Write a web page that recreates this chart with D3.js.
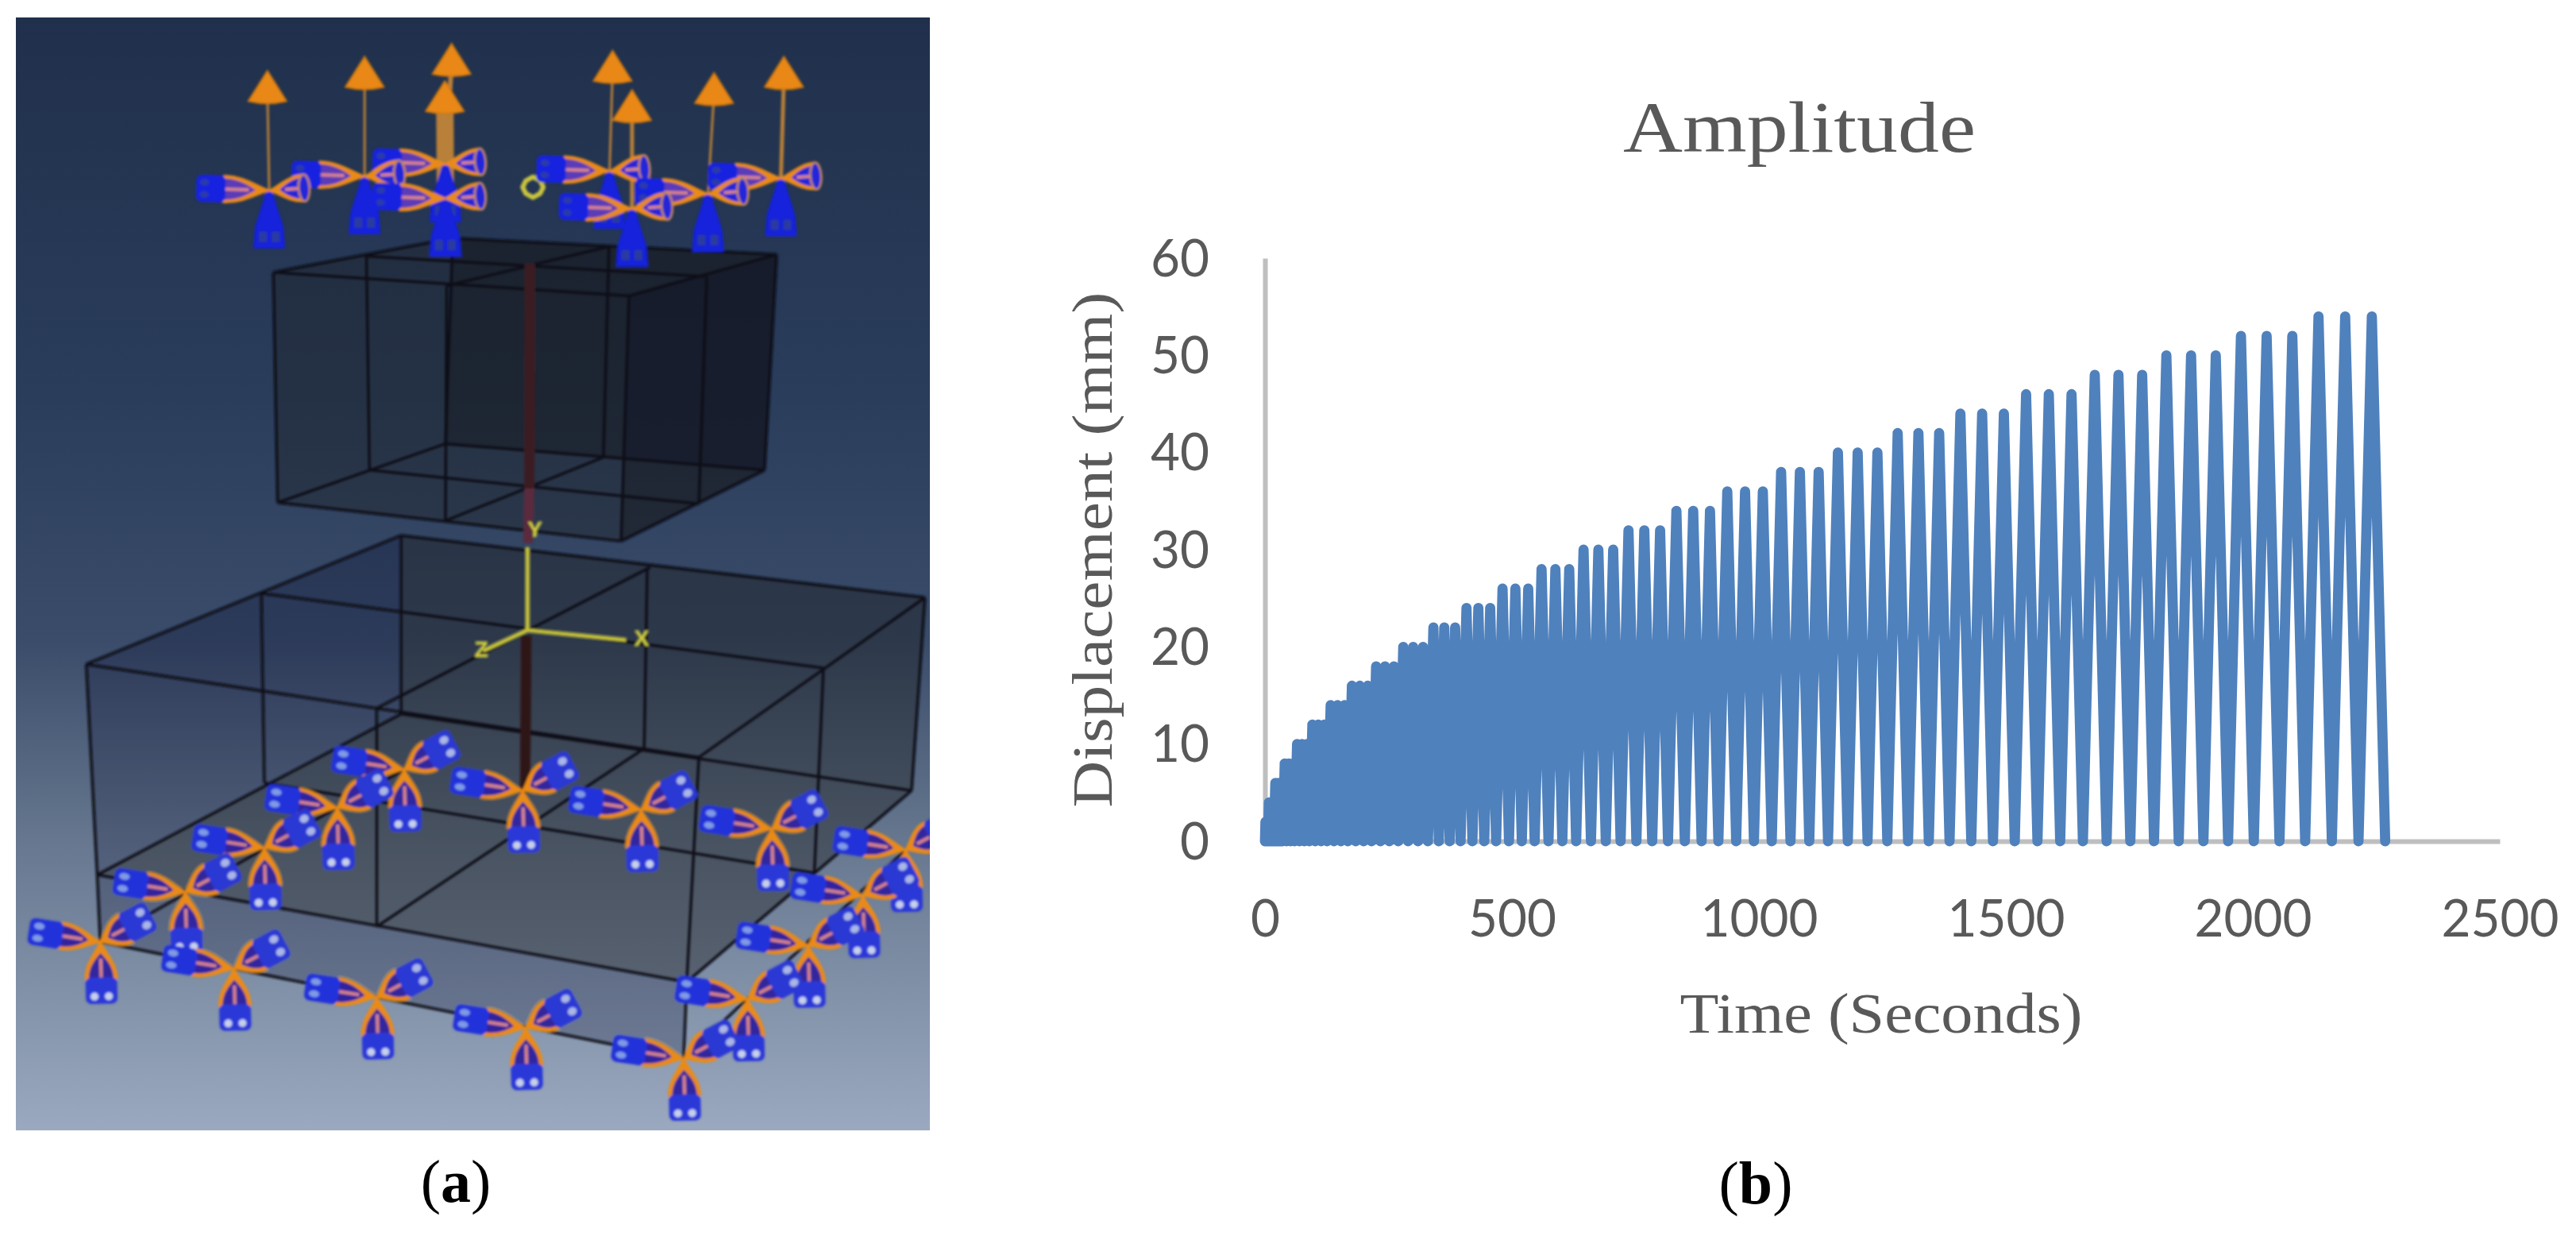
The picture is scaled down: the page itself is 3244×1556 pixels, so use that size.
<!DOCTYPE html>
<html><head><meta charset="utf-8">
<script src="https://cdn.jsdelivr.net/npm/d3@7/dist/d3.min.js"></script>
<style>html,body{margin:0;padding:0;background:#fff}svg{display:block}</style>
</head><body><svg id="c" width="3244" height="1556"></svg>
<script>
// ---------- chart (b) data ----------
const chartTitle = "Amplitude";
const xLabel = "Time (Seconds)";
const yLabel = "Displacement (mm)";
const xTicks = [0,500,1000,1500,2000,2500];
const yTicks = [0,10,20,30,40,50,60];
const timeSeconds = [0,
1,2,3,4,5,6, 8,10,12,14,16,18, 21,24,27,30,33,36, 40,44,48,52,56,60,
65,70,75,80,85,90, 96,102,108,114,120,126, 133,140,147,154,161,168,
176,184,192,200,208,216, 225,234,243,252,261,270, 280,290,300,310,320,330,
341,352,363,374,385,396, 408,420,432,444,456,468, 481,494,507,520,533,546,
560,574,588,602,616,630, 645,660,675,690,705,720, 736,752,768,784,800,816,
833,850,867,884,901,918, 936,954,972,990,1008,1026, 1045,1064,1083,1102,1121,1140,
1160,1180,1200,1220,1240,1260, 1281,1302,1323,1344,1365,1386, 1408,1430,1452,1474,1496,1518,
1541,1564,1587,1610,1633,1656, 1680,1704,1728,1752,1776,1800, 1825,1850,1875,1900,1925,1950,
1976,2002,2028,2054,2080,2106, 2133,2160,2187,2214,2241,2268];
const displacementMm = [0,
2,0,2,0,2,0, 4,0,4,0,4,0, 6,0,6,0,6,0, 8,0,8,0,8,0,
10,0,10,0,10,0, 12,0,12,0,12,0, 14,0,14,0,14,0,
16,0,16,0,16,0, 18,0,18,0,18,0, 20,0,20,0,20,0,
22,0,22,0,22,0, 24,0,24,0,24,0, 26,0,26,0,26,0,
28,0,28,0,28,0, 30,0,30,0,30,0, 32,0,32,0,32,0,
34,0,34,0,34,0, 36,0,36,0,36,0, 38,0,38,0,38,0,
40,0,40,0,40,0, 42,0,42,0,42,0, 44,0,44,0,44,0,
46,0,46,0,46,0, 48,0,48,0,48,0, 50,0,50,0,50,0,
52,0,52,0,52,0, 54,0,54,0,54,0];

// ---------- panel (a) model geometry (in picture units) ----------
const upperBoxFaces = [
 [[450,672],[745,588],[1278,628],[1258,1160],[1022,1335],[457,1240]],
 [[745,588],[1278,628],[1258,1160],[733,1095]],
 [[1035,730],[1278,628],[1258,1160],[1022,1335]]
];
const upperBoxEdges = [
 [[450,672],[745,588]],[[745,588],[1278,628]],[[1278,628],[1035,730]],[[1035,730],[450,672]],
 [[735,705],[1005,607]],[[603,632],[1160,682]],
 [[450,672],[457,1240]],[[603,632],[608,1160]],[[735,705],[733,1285]],[[745,588],[733,1095]],
 [[1002,610],[993,1125]],[[1035,730],[1022,1335]],[[1163,682],[1150,1243]],[[1278,628],[1258,1160]],
 [[457,1240],[733,1095]],[[733,1095],[1258,1160]],[[1258,1160],[1022,1335]],[[1022,1335],[457,1240]],
 [[733,1285],[993,1128]],[[608,1160],[1150,1243]]
];
const lowerBoxFaces = [
 [[142,75],[660,-261],[1522,-99],[1500,405],[1130,905],[160,625]],
 [[660,-261],[1522,-99],[1500,405],[660,205]],
 [[160,625],[660,205],[1500,405],[1130,905]],
 [[160,625],[1130,905],[1125,1105],[165,800]]
];
const lowerBoxEdges = [
 [[142,75],[660,-261]],[[660,-261],[1522,-99]],[[1522,-99],[1150,318]],[[1150,318],[142,75]],
 [[430,-110],[1355,85]],[[1070,-178],[620,190]],
 [[142,75],[160,625]],[[430,-110],[435,385]],[[620,190],[620,760]],[[660,-261],[660,205]],
 [[1065,-178],[1060,295]],[[1150,318],[1130,905]],[[1355,85],[1340,620]],[[1522,-99],[1500,405]],
 [[160,625],[660,205]],[[660,205],[1500,405]],[[1500,405],[1130,905]],[[1130,905],[160,625]],
 [[435,385],[1340,620]],[[620,760],[1060,295]],
 [[160,625],[165,800]],[[1130,905],[1125,1105]],
 [[165,800],[1125,1105]],[[1125,1105],[1490,560]],[[165,800],[665,350]]
];
const lowerNodes = [[665,350],[860,405],[1055,455],[1270,505],[1490,560],[1420,680],[1330,810],[1230,950],
 [555,450],[435,555],[305,670],[165,800],[385,870],[620,945],[865,1025],[1125,1105]];
const upperNodes = [[733,405],[600,435],[1003,422],[1285,440],[443,470],[1165,478],[733,490],[1040,515]];
const upperArrowTips = [[743,108],[600,140],[1008,125],[1290,140],[440,175],[1175,180],[732,200],[1040,222]];
const upperStemWidths = [6,3,3,5,3,3,22,5];

// ---------- page ----------
const svg = d3.select("#c");
const defs = svg.append("defs");
const grad = defs.append("linearGradient").attr("id","bg").attr("x1",0).attr("x2",0).attr("y1",0).attr("y2",1);
[[0,"#20304c"],[.34,"#2a3d5b"],[.56,"#3a4c69"],[.74,"#66778f"],[.9,"#8696ad"],[1,"#9ba9c0"]]
 .forEach(d=>grad.append("stop").attr("offset",d[0]).attr("stop-color",d[1]));
defs.append("filter").attr("id","soft").attr("x","-2%").attr("y","-2%").attr("width","104%").attr("height","104%")
 .append("feGaussianBlur").attr("stdDeviation",1.7);
defs.append("clipPath").attr("id","panelClip").append("rect").attr("x",20).attr("y",22).attr("width",1151).attr("height",1401);

// scales from picture units to page pixels
const ux = d3.scaleLinear().domain([0,1568]).range([0,1200]);
const uy4 = d3.scaleLinear().domain([0,1568]).range([0,800]);
const uy5 = d3.scaleLinear().domain([0,1568]).range([800,1556]);
const up = p=>[ux(p[0]),uy4(p[1])], lo = p=>[ux(p[0]),uy5(p[1])];
const path = d3.line();

const pa = svg.append("g");
pa.append("rect").attr("x",20).attr("y",22).attr("width",1151).attr("height",1401).attr("fill","url(#bg)");
const pic = pa.append("g").attr("clip-path","url(#panelClip)").append("g").attr("filter","url(#soft)");

function box(faces,edges,proj,op){
  pic.append("g").selectAll("path").data(faces).join("path")
    .attr("d",d=>path(d.map(proj))+"Z").attr("fill","#12131a").attr("fill-opacity",op);
  pic.append("g").selectAll("path").data(edges).join("path")
    .attr("d",d=>path(d.map(proj))).attr("fill","none").attr("stroke","#0d1118").attr("stroke-width",3.5);
}
box(lowerBoxFaces,lowerBoxEdges,lo,.22);
box(upperBoxFaces,upperBoxEdges,up,.34);

// central column
pic.append("path").attr("d",path([up([872,650]),up([871,1205])])).attr("stroke","#3a1b24").attr("stroke-width",13);
pic.append("path").attr("d",path([up([871,1205]),up([869,1340])])).attr("stroke","#5c2a3c").attr("stroke-width",12);
pic.append("path").attr("d",path([lo([866,0]),lo([864,410])])).attr("stroke","#2e1216").attr("stroke-width",13);

// triad
const triad = pic.append("g").attr("fill","none").attr("stroke","#c9c43a").attr("stroke-width",4.5);
const origin = up([868,1555]);
[up([868,1350]),lo([1030,12]),lo([795,40])].forEach(e=>triad.append("path").attr("d",path([origin,e])));
const triadLabels = [["Y",up([880,1325])],["X",lo([1056,26])],["Z",lo([792,56])]];
pic.append("g").selectAll("text").data(triadLabels).join("text").attr("x",d=>d[1][0]).attr("y",d=>d[1][1])
  .attr("text-anchor","middle").attr("font-family","Liberation Sans").attr("font-weight",700).attr("font-size",28).attr("fill","#d0cc3c").text(d=>d[0]);

// yellow reference marker
pic.append("path").attr("transform",`translate(${up([877,462])})`).attr("d","M0,-13L9,-8L13,0L9,8L0,13L-9,8L-13,0L-9,-8Z")
  .attr("fill","none").attr("stroke","#c8c43e").attr("stroke-width",6).attr("stroke-linejoin","round");

// one support arm: orange lens from the node, blue/pink interior, blue end block with light spots
function arm(g,dx,dy,w,coneFrac,blockFill,spotFill,innerFill){
  const L=Math.hypot(dx,dy), a=Math.atan2(dy,dx)*180/Math.PI, c=L*coneFrac;
  const s=g.append("g").attr("transform",`rotate(${a})`);
  s.append("path").attr("d",`M0,0C${c*.25},${-w*.25} ${c*.55},${-w} ${c},${-w}L${c},${w}C${c*.55},${w} ${c*.25},${w*.25} 0,0Z`)
    .attr("fill","#ea8a18").attr("stroke","#ea8a18").attr("stroke-width",2).attr("stroke-linejoin","round");
  s.append("path").attr("d",`M${c*.3},0C${c*.45},${-w*.3} ${c*.65},${-w*.78} ${c},${-w*.78}L${c},${w*.78}C${c*.65},${w*.78} ${c*.45},${w*.3} ${c*.3},0Z`)
    .attr("fill",innerFill);
  s.append("path").attr("d",`M${c*.45},0H${c}`).attr("stroke","#d8848a").attr("stroke-width",4).attr("fill","none");
  if(coneFrac<1){
    s.append("rect").attr("x",c-2).attr("y",-w).attr("width",L-c+2).attr("height",2*w).attr("rx",7).attr("fill",blockFill);
    [-.45,.45].forEach(f=>s.append("ellipse").attr("cx",L-(L-c)*.3).attr("cy",w*f).attr("rx",(L-c)*.16).attr("ry",w*.25).attr("fill",spotFill));
  } else {
    s.append("ellipse").attr("cx",c).attr("rx",7).attr("ry",w).attr("fill",innerFill).attr("stroke","#c88a50").attr("stroke-width",2.5);
  }
}
// upper arrows
pic.append("g").selectAll("path").data(upperNodes).join("path")
  .attr("d",(d,i)=>path([up(d),up([upperArrowTips[i][0],upperArrowTips[i][1]+50])]))
  .attr("stroke","#b88038").attr("stroke-width",(d,i)=>upperStemWidths[i]).attr("fill","none");
pic.append("g").selectAll("path").data(upperArrowTips).join("path")
  .attr("transform",d=>`translate(${up(d)})`)
  .attr("d","M0,0L24,38Q0,44,-24,38Z").attr("fill","#e98814").attr("stroke","#d07810").attr("stroke-width",2);
// upper supports
const un = pic.append("g").selectAll("g").data(upperNodes).join("g").attr("transform",d=>`translate(${up(d)})`);
un.each(function(){
  const g=d3.select(this);
  const dn=g.append("g").attr("transform","rotate(90)");
  dn.append("path").attr("d","M2,-3L46,-17L72,-19L72,19L46,17L2,3Z").attr("fill","#1220dc").attr("stroke","#1220dc").attr("stroke-width",2).attr("stroke-linejoin","round");
  [-8,8].forEach(f=>dn.append("rect").attr("x",52).attr("y",f-5).attr("width",13).attr("height",10).attr("fill","#2a3aa0"));
  arm(g,-92,-3,17,.62,"#1424e0","#2a3aa8","#5a3ab8");
  arm(g,44,-3,17,1,"#1424e0","#2a3aa8","#2226d8");
});
// lower supports
const ln = pic.append("g").selectAll("g").data(lowerNodes).join("g").attr("transform",d=>`translate(${lo(d)})`);
ln.each(function(){
  const g=d3.select(this);
  arm(g,-90,-14,17,.55,"#2332da","#7f9ae6","#33249e");
  arm(g,64,-34,20,.5,"#2a38d4","#a9b6e6","#33289e");
  arm(g,2,78,20,.6,"#2a38d8","#c6d0ec","#33289e");
});

// captions
const cap = svg.append("g").attr("font-family","Liberation Serif").attr("font-size",76).attr("fill","#000").attr("text-anchor","middle");
[["a",574,1513],["b",2211,1515]].forEach(d=>{
  const t=cap.append("text").attr("x",d[1]).attr("y",d[2]);
  t.append("tspan").text("(");
  t.append("tspan").attr("font-weight",700).text(d[0]);
  t.append("tspan").text(")");
});

// ---------- chart ----------
const x = d3.scaleLinear().domain([0,2500]).range([1593,3148]);
const y = d3.scaleLinear().domain([0,60]).range([1059,325]);

const gx = svg.append("g").attr("transform",`translate(0,${y(0)})`)
  .call(d3.axisBottom(x).tickValues(xTicks).tickFormat(d3.format("d")).tickSize(0).tickPadding(68));
const gy = svg.append("g").attr("transform",`translate(${x(0)},0)`)
  .call(d3.axisLeft(y).tickValues(yTicks).tickFormat(d3.format("d")).tickSize(0).tickPadding(70));
[gx,gy].forEach(g=>{
  g.selectAll(".domain").attr("stroke","#bfbfbf").attr("stroke-width",6);
  g.selectAll("text").attr("font-family","Lato").attr("font-size",66).attr("fill","#595959").attr("stroke","none")
    .attr("textLength",function(){return this.textContent.length*37;}).attr("lengthAdjust","spacingAndGlyphs");
  g.attr("font-family",null).attr("font-size",null);
});
gy.selectAll("text").attr("dy",null).attr("y",22);
gx.selectAll("text").attr("dy",null).attr("y",120);

const line = d3.line().x((d,i)=>x(timeSeconds[i])).y(d=>y(d));
svg.append("path").datum(displacementMm).attr("d",line).attr("fill","none")
  .attr("stroke","#4f81bd").attr("stroke-width",12.8).attr("stroke-linejoin","round").attr("stroke-linecap","round");

const serifFamily = "Liberation Serif";
svg.append("text").attr("x",2266).attr("y",191).attr("text-anchor","middle").attr("font-family",serifFamily)
  .attr("font-size",92).attr("fill","#595959").attr("textLength",444).attr("lengthAdjust","spacingAndGlyphs").text(chartTitle);
svg.append("text").attr("x",2369).attr("y",1300).attr("text-anchor","middle").attr("font-family",serifFamily)
  .attr("font-size",72).attr("fill","#595959").attr("textLength",507).attr("lengthAdjust","spacingAndGlyphs").text(xLabel);
svg.append("text").attr("transform","translate(1400,692) rotate(-90)").attr("text-anchor","middle").attr("font-family",serifFamily)
  .attr("font-size",72).attr("fill","#595959").attr("textLength",649).attr("lengthAdjust","spacingAndGlyphs").text(yLabel);
</script></body></html>
